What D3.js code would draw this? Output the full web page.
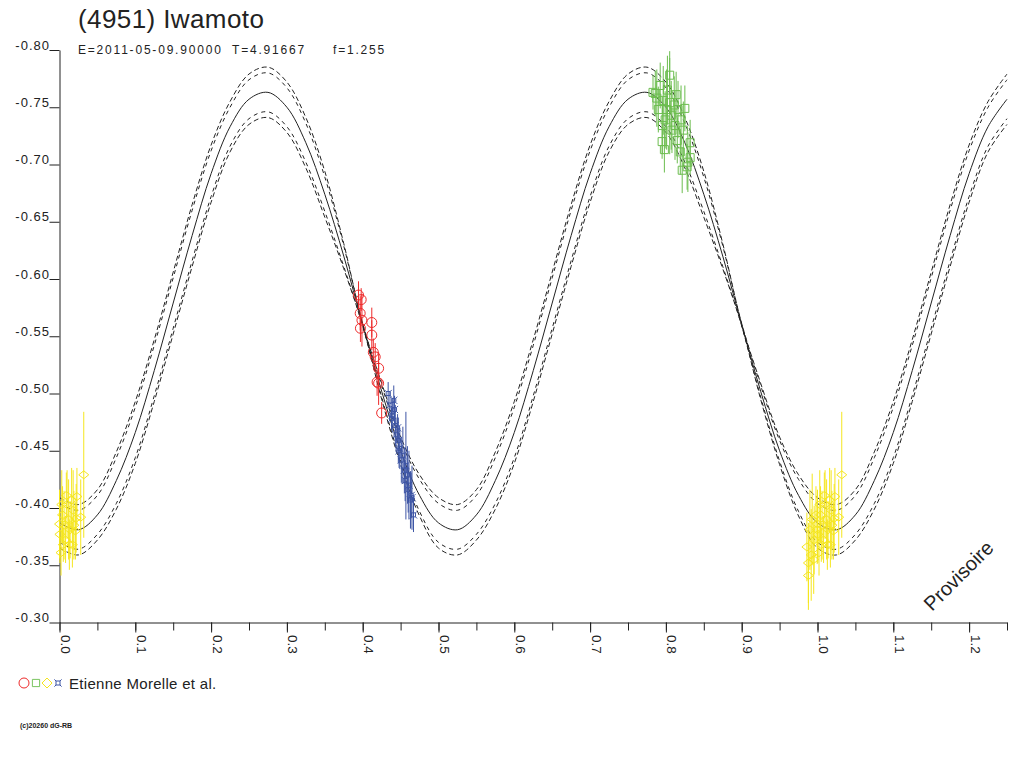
<!DOCTYPE html>
<html>
<head>
<meta charset="utf-8">
<script src="https://cdn.jsdelivr.net/npm/d3@7"></script>
<style>
  html, body { margin: 0; padding: 0; background: #fff; }
  svg { display: block; font-family: "Liberation Sans", Arial, sans-serif; }
</style>
</head>
<body>
<div id="app"></div>
<script>
// ---- text ----
const TITLE = '(4951) Iwamoto';
const SUBTITLE = ['E=2011-05-09.90000', 'T=4.91667', 'f=1.255'];
const OBSERVER = 'Etienne Morelle et al.';
const COPYRIGHT = '(c)20260 dG-RB';
const STAMP = 'Provisoire';

// ---- axes ----
const xMajor = [0, 0.1, 0.2, 0.3, 0.4, 0.5, 0.6, 0.7, 0.8, 0.9, 1.0, 1.1, 1.2];
const xMinor = [0, 0.05, 0.1, 0.15, 0.2, 0.25, 0.3, 0.35, 0.4, 0.45, 0.5, 0.55, 0.6,
  0.65, 0.7, 0.75, 0.8, 0.85, 0.9, 0.95, 1.0, 1.05, 1.1, 1.15, 1.2, 1.25];
const yTicks = [-0.80, -0.75, -0.70, -0.65, -0.60, -0.55, -0.50, -0.45, -0.40, -0.35, -0.30];

// ---- fitted light curve ----
const fitPhase = [0, 0.025, 0.05, 0.075, 0.1, 0.125, 0.15, 0.175, 0.2, 0.225, 0.25, 0.275,
  0.3, 0.325, 0.35, 0.375, 0.4, 0.425, 0.45, 0.475, 0.5, 0.525, 0.55, 0.575, 0.6, 0.625,
  0.65, 0.675, 0.7, 0.725, 0.75, 0.775, 0.8, 0.825, 0.85, 0.875, 0.9, 0.925, 0.95, 0.975,
  1.0, 1.025, 1.05, 1.075, 1.1, 1.125, 1.15, 1.175, 1.2, 1.225, 1.25];
const fitMag = [-0.387, -0.381, -0.394, -0.424, -0.466, -0.520, -0.579, -0.638, -0.692, -0.733,
  -0.757, -0.763, -0.750, -0.719, -0.674, -0.620, -0.560, -0.502, -0.450, -0.411,
  -0.387, -0.381, -0.394, -0.424, -0.466, -0.520, -0.579, -0.638, -0.692, -0.733,
  -0.757, -0.763, -0.750, -0.719, -0.674, -0.620, -0.560, -0.502, -0.450, -0.411,
  -0.387, -0.381, -0.394, -0.424, -0.466, -0.520, -0.579, -0.638, -0.692, -0.733, -0.757];
const bandOuter = [0.022, 0.022, 0.022, 0.025, 0.027, 0.027, 0.027, 0.027, 0.025, 0.022,
  0.022, 0.022, 0.022, 0.022, 0.020, 0.011, 0.001, 0.007, 0.012, 0.018,
  0.022, 0.022, 0.022, 0.025, 0.027, 0.027, 0.027, 0.027, 0.025, 0.022,
  0.022, 0.022, 0.022, 0.022, 0.020, 0.011, 0.001, 0.007, 0.012, 0.018,
  0.022, 0.022, 0.022, 0.025, 0.027, 0.027, 0.027, 0.027, 0.025, 0.022, 0.022];
const bandInner = [0.017, 0.017, 0.017, 0.020, 0.022, 0.022, 0.022, 0.022, 0.020, 0.017,
  0.017, 0.017, 0.017, 0.017, 0.015, 0.009, 0.001, 0.005, 0.009, 0.014,
  0.017, 0.017, 0.017, 0.020, 0.022, 0.022, 0.022, 0.022, 0.020, 0.017,
  0.017, 0.017, 0.017, 0.017, 0.015, 0.009, 0.001, 0.005, 0.009, 0.014,
  0.017, 0.017, 0.017, 0.020, 0.022, 0.022, 0.022, 0.022, 0.020, 0.017, 0.017];

// ---- observations [phase, mag, error] ----
const redPoints = [
  [0.3945, -0.586, 0.012], [0.3967, -0.570, 0.015], [0.399, -0.564, 0.023],
  [0.397, -0.557, 0.012], [0.398, -0.582, 0.010], [0.412, -0.562, 0.013],
  [0.412, -0.551, 0.013], [0.414, -0.536, 0.012], [0.4165, -0.532, 0.012],
  [0.421, -0.522, 0.014], [0.419, -0.510, 0.012], [0.421, -0.509, 0.019],
  [0.425, -0.483, 0.0095]
];
const greenPoints = [
  [0.783, -0.763, 0.015], [0.786, -0.762, 0.020], [0.788, -0.758, 0.025],
  [0.790, -0.748, 0.020], [0.7925, -0.769, 0.020], [0.795, -0.720, 0.015],
  [0.7965, -0.756, 0.030], [0.799, -0.739, 0.025], [0.802, -0.765, 0.030],
  [0.805, -0.754, 0.045], [0.805, -0.778, 0.015], [0.807, -0.743, 0.030],
  [0.808, -0.730, 0.020], [0.811, -0.752, 0.025], [0.812, -0.734, 0.030],
  [0.8135, -0.761, 0.020], [0.815, -0.721, 0.020], [0.816, -0.748, 0.025],
  [0.819, -0.711, 0.020], [0.820, -0.739, 0.030], [0.823, -0.730, 0.025],
  [0.825, -0.749, 0.020], [0.828, -0.698, 0.020], [0.829, -0.702, 0.026],
  [0.832, -0.719, 0.020], [0.832, -0.706, 0.015], [0.798, -0.713, 0.020],
  [0.8215, -0.695, 0.020], [0.7953, -0.734, 0.025], [0.801, -0.748, 0.035]
];
const yellowPoints = [
  [0.986, -0.366, 0.030], [0.988, -0.352, 0.035], [0.988, -0.341, 0.030],
  [0.990, -0.381, 0.035], [0.993, -0.390, 0.040], [0.9956, -0.372, 0.030],
  [0.998, -0.394, 0.025], [0.9917, -0.359, 0.040], [0.995, -0.355, 0.030],
  [0.9996, -0.381, 0.030],
  [0.000, -0.386, 0.030], [0.0005, -0.377, 0.025], [0.002, -0.361, 0.020],
  [0.004, -0.394, 0.025], [0.006, -0.385, 0.030], [0.008, -0.372, 0.020],
  [0.010, -0.403, 0.030], [0.012, -0.390, 0.035], [0.014, -0.381, 0.025],
  [0.016, -0.407, 0.028], [0.018, -0.398, 0.035], [0.019, -0.385, 0.030],
  [0.021, -0.380, 0.025], [0.023, -0.410, 0.025], [0.022, -0.391, 0.030],
  [0.028, -0.392, 0.033], [0.032, -0.429, 0.055], [0.005, -0.368, 0.015],
  [0.009, -0.411, 0.020], [0.013, -0.368, 0.022], [0.017, -0.368, 0.020],
  [0.003, -0.403, 0.030]
];
const bluePoints = [
  [0.4336, -0.500, 0.010], [0.436, -0.490, 0.012], [0.439, -0.481, 0.015],
  [0.442, -0.486, 0.012], [0.443, -0.472, 0.018], [0.444, -0.464, 0.015],
  [0.446, -0.470, 0.012], [0.447, -0.459, 0.020], [0.448, -0.450, 0.015],
  [0.449, -0.452, 0.018], [0.451, -0.442, 0.020], [0.453, -0.446, 0.025],
  [0.455, -0.433, 0.020], [0.456, -0.424, 0.018], [0.457, -0.437, 0.047],
  [0.459, -0.429, 0.025], [0.460, -0.416, 0.020], [0.461, -0.420, 0.030],
  [0.463, -0.407, 0.025], [0.464, -0.411, 0.020], [0.465, -0.409, 0.028],
  [0.467, -0.394, 0.015], [0.441, -0.494, 0.013], [0.438, -0.478, 0.010]
];

const COLORS = { red: '#ee2b2b', green: '#6cbd4f', yellow: '#f5e61e', blue: '#3d55a5', ink: '#222' };

// ---- layout ----
const width = 1024, height = 768;
const x = d3.scaleLinear().domain([0, 1.25]).range([59.5, 1007]);
const y = d3.scaleLinear().domain([-0.80, -0.30]).range([50, 622.5]);

const svg = d3.select('#app').append('svg').attr('width', width).attr('height', height);

// axes
const yAxis = svg.append('g')
  .attr('transform', `translate(${x(0)},0)`)
  .call(d3.axisLeft(y).tickValues(yTicks).tickSize(10).tickSizeOuter(0).tickFormat((d) => d.toFixed(2)));
yAxis.selectAll('path, line').attr('stroke', COLORS.ink);
yAxis.selectAll('text')
  .attr('x', -9.5).attr('dy', -1)
  .attr('fill', COLORS.ink)
  .attr('font-size', 13)
  .attr('font-family', '"Liberation Sans", Arial, sans-serif')
  .style('letter-spacing', '1px');

const xMinorAxis = svg.append('g')
  .attr('transform', `translate(0,${y(-0.30)})`)
  .call(d3.axisBottom(x).tickValues(xMinor).tickSize(8).tickSizeOuter(0).tickFormat(''));
xMinorAxis.selectAll('path, line').attr('stroke', COLORS.ink);

const xAxis = svg.append('g')
  .attr('transform', `translate(0,${y(-0.30)})`)
  .call(d3.axisBottom(x).tickValues(xMajor).tickSize(10).tickSizeOuter(0).tickFormat((d) => d.toFixed(1)));
xAxis.select('.domain').remove();
xAxis.selectAll('line').attr('stroke', COLORS.ink);
xAxis.selectAll('text')
  .attr('x', null).attr('y', null).attr('dy', null)
  .attr('text-anchor', 'start')
  .attr('transform', 'translate(1,12.5) rotate(90)')
  .attr('fill', COLORS.ink)
  .attr('font-size', 13.5)
  .attr('font-family', '"Liberation Sans", Arial, sans-serif');

// fit curves
const fitRows = fitPhase.map((p, i) => ({ p, m: fitMag[i], o: bandOuter[i], n: bandInner[i] }));
const curve = (acc) => d3.line().x((d) => x(d.p)).y((d) => y(acc(d))).curve(d3.curveCatmullRom.alpha(0.5));

const curves = [
  { acc: (d) => d.m - d.o, dash: '5,3' },
  { acc: (d) => d.m - d.n, dash: '4,4' },
  { acc: (d) => d.m + d.n, dash: '4,4' },
  { acc: (d) => d.m + d.o, dash: '5,3' },
  { acc: (d) => d.m, dash: null },
];
svg.append('g').selectAll('path')
  .data(curves)
  .enter()
  .append('path')
  .attr('d', (c) => curve(c.acc)(fitRows))
  .attr('fill', 'none')
  .attr('stroke', COLORS.ink)
  .attr('stroke-width', 1)
  .attr('stroke-dasharray', (c) => c.dash);

// symbols
const symbolPath = {
  circle: () => 'M5,0A5,5 0 1,1 -5,0A5,5 0 1,1 5,0Z',
  square: () => 'M-4,-4H4V4H-4Z',
  diamond: () => 'M-5,0L0,-4L5,0L0,4Z',
  star: () => 'M-2,-2H2V2H-2Z M-2,-2l-1.6,-1.6 M2,-2l1.6,-1.6 M2,2l1.6,1.6 M-2,2l-1.6,1.6',
};

function drawSeries(points, color, sym) {
  // data repeated one cycle later while it stays inside the axis
  const rows = [];
  points.forEach(([p, m, e]) => {
    rows.push({ p, m, e });
    if (p + 1 <= 1.25) rows.push({ p: p + 1, m, e });
  });
  const g = svg.append('g');
  g.selectAll('line')
    .data(rows)
    .enter()
    .append('line')
    .attr('x1', (d) => x(d.p)).attr('x2', (d) => x(d.p))
    .attr('y1', (d) => y(d.m - d.e)).attr('y2', (d) => y(d.m + d.e))
    .attr('stroke', color)
    .attr('stroke-width', 1);
  g.selectAll('path')
    .data(rows)
    .enter()
    .append('path')
    .attr('transform', (d) => `translate(${x(d.p)},${y(d.m)})`)
    .attr('d', symbolPath[sym]())
    .attr('fill', 'none')
    .attr('stroke', color)
    .attr('stroke-width', 1);
}

drawSeries(yellowPoints, COLORS.yellow, 'diamond');
drawSeries(greenPoints, COLORS.green, 'square');
drawSeries(redPoints, COLORS.red, 'circle');
drawSeries(bluePoints, COLORS.blue, 'star');

// title
svg.append('text')
  .attr('x', 78).attr('y', 28)
  .attr('font-size', 26)
  .attr('fill', COLORS.ink)
  .style('letter-spacing', '0.4px')
  .text(TITLE);

svg.append('g').selectAll('text')
  .data(SUBTITLE)
  .enter()
  .append('text')
  .attr('x', (d, i) => [78, 232, 333][i])
  .attr('y', 54)
  .attr('font-size', 12)
  .attr('fill', COLORS.ink)
  .style('letter-spacing', '1.8px')
  .text((d) => d);

// legend
const legend = svg.append('g').attr('transform', 'translate(0,683)');
[['circle', COLORS.red, 24], ['square', COLORS.green, 36], ['diamond', COLORS.yellow, 47], ['star', COLORS.blue, 58]]
  .forEach(([sym, color, cx]) => {
    legend.append('path')
      .attr('transform', `translate(${cx},0)${sym === 'square' ? ' scale(0.9)' : ''}`)
      .attr('d', sym === 'diamond' ? 'M-5,0L0,-5L5,0L0,5Z' : symbolPath[sym]())
      .attr('fill', 'none')
      .attr('stroke', color)
      .attr('stroke-width', 1);
  });
legend.append('text')
  .attr('x', 69).attr('y', 5.5)
  .attr('font-size', 15)
  .attr('fill', COLORS.ink)
  .style('letter-spacing', '0.3px')
  .text(OBSERVER);

svg.append('text')
  .attr('x', 20).attr('y', 728)
  .attr('font-size', 7)
  .attr('font-weight', 'bold')
  .attr('fill', COLORS.ink)
  .text(COPYRIGHT);

svg.append('text')
  .attr('transform', 'translate(932,612) rotate(-45)')
  .attr('font-size', 20)
  .attr('fill', COLORS.ink)
  .text(STAMP);
</script>
</body>
</html>
